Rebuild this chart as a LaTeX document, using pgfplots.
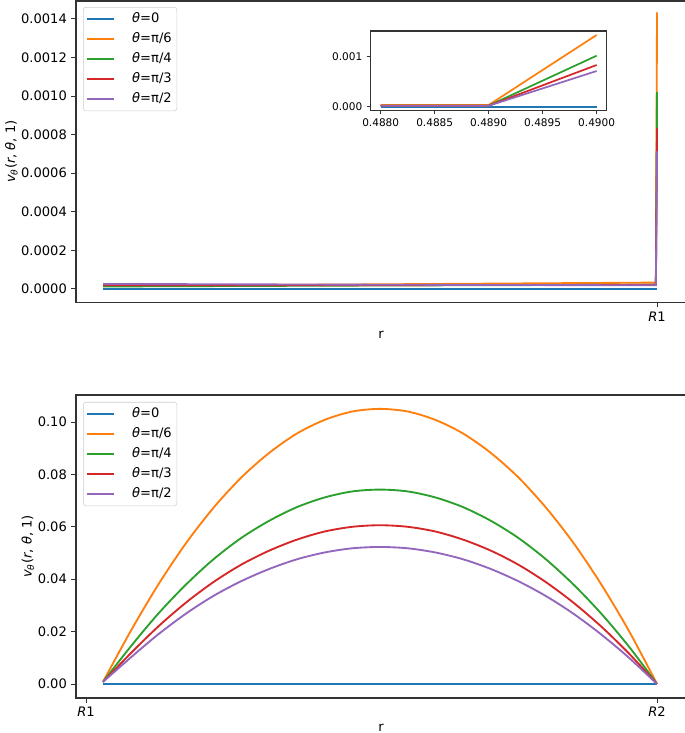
\documentclass[border=0pt]{standalone}
\usepackage{fontspec}
\setmainfont{DejaVu Sans}
\usepackage{pgfplots}
\pgfplotsset{compat=1.18}
\definecolor{c0}{HTML}{1F77B4}
\definecolor{c1}{HTML}{FF7F0E}
\definecolor{c2}{HTML}{2CA02C}
\definecolor{c3}{HTML}{D62728}
\definecolor{c4}{HTML}{9467BD}
\pgfplotsset{
  mpl/.style={
    scale only axis,
    axis line style={line width=0.8pt, black!80},
    tick align=outside,
    xtick pos=bottom, ytick pos=left,
    major tick length=3.4pt,
    every tick/.style={black!80, line width=0.7pt},
    /pgf/number format/assume math mode=true,
    scaled y ticks=false, scaled x ticks=false,
    every axis plot/.append style={line width=1.4pt},
    legend cell align=left,
    legend image code/.code={\draw[#1] (0pt,0pt) -- (20pt,0pt);},
    legend style={anchor=north west, draw=black!20, rounded corners=2pt,
      fill=white, fill opacity=0.8, text opacity=1, font=\fontsize{9.8}{11.8}\selectfont,
      inner sep=2pt, row sep=1.8pt,
      /tikz/every odd column/.append style={column sep=11.5pt},
      nodes={inner sep=1.8pt, text height=7.5pt, text depth=2.2pt}},
  }
}
\begin{document}
\fontsize{9.8}{11.8}\selectfont
\begin{tikzpicture}
\useasboundingbox (0,0) rectangle (513.75pt,549.75pt);
% ---------- top axis ----------
\begin{axis}[mpl,
  at={(57pt,322.9pt)}, anchor=south west,
  width=457.5pt, height=226.1pt,
  xmin=-0.0134, xmax=0.5151,
  ymin=-0.00007, ymax=0.001493,
  xtick={0.49}, xticklabels={{\itshape R}1},
  ytick={0,0.0002,0.0004,0.0006,0.0008,0.001,0.0012,0.0014},
  yticklabel style={/pgf/number format/fixed, /pgf/number format/fixed zerofill, /pgf/number format/precision=4},
  xlabel={r},
  xlabel style={at={(axis description cs:0.5,-0.107)}, anchor=center},
  ylabel={{\itshape v}\textsubscript{\itshape θ}({\itshape r}, {\itshape θ}, 1)},
  ylabel style={at={(axis description cs:-0.106,0.5)}, anchor=center},
  legend style={at={(axis description cs:0.0115,0.98)}},
]
\addplot[c0] coordinates {(0.01,0) (0.488,0) (0.489,0) (0.49,0)};
\addlegendentry{{\itshape θ}=0}
\addplot[c1] coordinates {(0.01,0.000016) (0.25,0.000024) (0.488,0.000033) (0.489,0.000034) (0.49,0.001434)};
\addlegendentry{{\itshape θ}=π/6}
\addplot[c2] coordinates {(0.01,0.000013) (0.25,0.000018) (0.488,0.000022) (0.489,0.000022) (0.49,0.00102)};
\addlegendentry{{\itshape θ}=π/4}
\addplot[c3] coordinates {(0.01,0.000019) (0.25,0.00002) (0.488,0.000021) (0.489,0.000021) (0.49,0.000834)};
\addlegendentry{{\itshape θ}=π/3}
\addplot[c4] coordinates {(0.01,0.000026) (0.25,0.000022) (0.488,0.000019) (0.489,0.000019) (0.49,0.000714)};
\addlegendentry{{\itshape θ}=π/2}
\end{axis}
% ---------- inset ----------
\begin{axis}[mpl,
  at={(278pt,466.7pt)}, anchor=south west,
  width=177pt, height=59.8pt,
  axis background/.style={fill=white},
  xmin=0.487907, xmax=0.490093,
  ymin=-0.00008, ymax=0.001514,
  xtick={0.488,0.4885,0.489,0.4895,0.49},
  ytick={0,0.001},
  major tick length=2.8pt,
  ticklabel style={font=\fontsize{7.9}{9.5}\selectfont},
  xticklabel style={/pgf/number format/fixed, /pgf/number format/fixed zerofill, /pgf/number format/precision=4},
  yticklabel style={/pgf/number format/fixed, /pgf/number format/fixed zerofill, /pgf/number format/precision=3},
  every axis plot/.append style={line width=1.3pt},
]
\addplot[c0] coordinates {(0.488,0) (0.489,0) (0.49,0)};
\addplot[c1] coordinates {(0.488,0.000033) (0.489,0.000034) (0.49,0.001434)};
\addplot[c2] coordinates {(0.488,0.000022) (0.489,0.000022) (0.49,0.00102)};
\addplot[c3] coordinates {(0.488,0.000021) (0.489,0.000021) (0.49,0.000834)};
\addplot[c4] coordinates {(0.488,0.000019) (0.489,0.000019) (0.49,0.000714)};
\end{axis}
% ---------- bottom axis ----------
\begin{axis}[mpl,
  at={(57pt,26.25pt)}, anchor=south west,
  width=457.5pt, height=227.25pt,
  xmin=-0.0487, xmax=1.0523,
  ymin=-0.00534, ymax=0.1103,
  xtick={-0.0307,1}, xticklabels={{\itshape R}1,{\itshape R}2},
  ytick={0,0.02,0.04,0.06,0.08,0.10},
  yticklabel style={/pgf/number format/fixed, /pgf/number format/fixed zerofill, /pgf/number format/precision=2},
  xlabel={r},
  xlabel style={at={(axis description cs:0.5,-0.099)}, anchor=center},
  ylabel={{\itshape v}\textsubscript{\itshape θ}({\itshape r}, {\itshape θ}, 1)},
  ylabel style={at={(axis description cs:-0.0787,0.5)}, anchor=center},
  legend style={at={(axis description cs:0.0115,0.977)}},
]
\addplot[c0] coordinates {(0,0) (1,0)};
\addlegendentry{{\itshape θ}=0}
\addplot[c1, smooth] coordinates {(0,0.0008) (0.05,0.0202) (0.10,0.0380) (0.15,0.0538) (0.20,0.0674) (0.25,0.0789) (0.30,0.0882) (0.35,0.0956) (0.40,0.1008) (0.45,0.1040) (0.50,0.1050) (0.55,0.1040) (0.60,0.1008) (0.65,0.0956) (0.70,0.0882) (0.75,0.0788) (0.80,0.0672) (0.85,0.0536) (0.90,0.0378) (0.95,0.0200) (1,0)};
\addlegendentry{{\itshape θ}=π/6}
\addplot[c2, smooth] coordinates {(0,0.0008) (0.05,0.0143) (0.10,0.0269) (0.15,0.0380) (0.20,0.0477) (0.25,0.0558) (0.30,0.0623) (0.35,0.0675) (0.40,0.0712) (0.45,0.0735) (0.50,0.0742) (0.55,0.0735) (0.60,0.0712) (0.65,0.0675) (0.70,0.0623) (0.75,0.0557) (0.80,0.0475) (0.85,0.0378) (0.90,0.0267) (0.95,0.0141) (1,0)};
\addlegendentry{{\itshape θ}=π/4}
\addplot[c3, smooth] coordinates {(0,0.0008) (0.05,0.0117) (0.10,0.0220) (0.15,0.0311) (0.20,0.0390) (0.25,0.0456) (0.30,0.0509) (0.35,0.0551) (0.40,0.0582) (0.45,0.0600) (0.50,0.0606) (0.55,0.0600) (0.60,0.0582) (0.65,0.0551) (0.70,0.0509) (0.75,0.0455) (0.80,0.0388) (0.85,0.0309) (0.90,0.0218) (0.95,0.0115) (1,0)};
\addlegendentry{{\itshape θ}=π/3}
\addplot[c4, smooth] coordinates {(0,0.0008) (0.05,0.0101) (0.10,0.0190) (0.15,0.0269) (0.20,0.0337) (0.25,0.0393) (0.30,0.0439) (0.35,0.0476) (0.40,0.0502) (0.45,0.0518) (0.50,0.0523) (0.55,0.0518) (0.60,0.0502) (0.65,0.0476) (0.70,0.0439) (0.75,0.0392) (0.80,0.0335) (0.85,0.0267) (0.90,0.0188) (0.95,0.0099) (1,0)};
\addlegendentry{{\itshape θ}=π/2}
\end{axis}
\end{tikzpicture}
\end{document}
